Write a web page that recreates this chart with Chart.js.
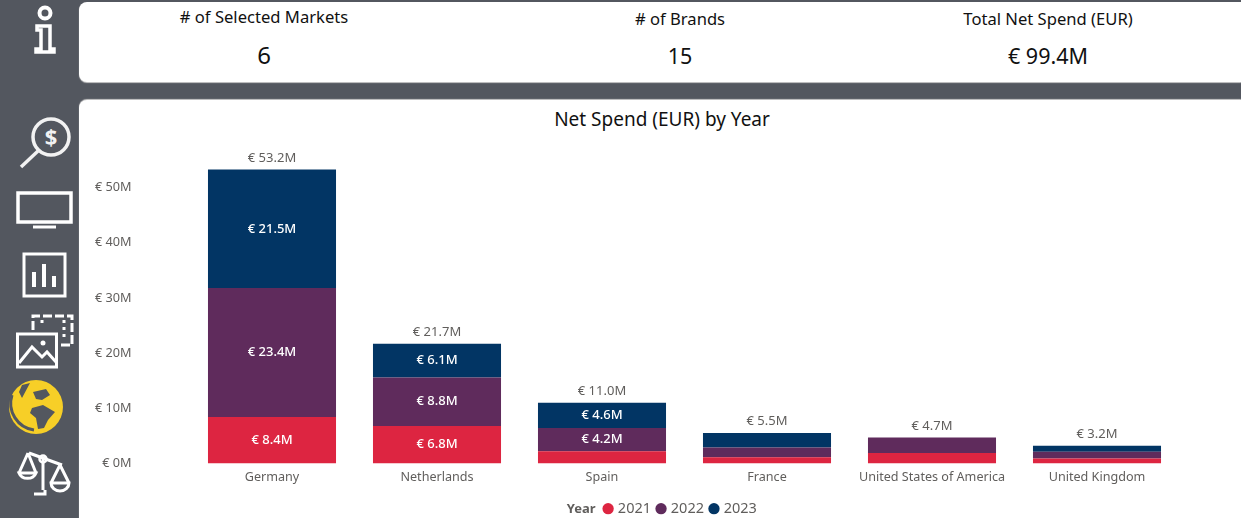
<!DOCTYPE html>
<html>
<head>
<meta charset="utf-8">
<script src="https://cdn.jsdelivr.net/npm/chart.js@4/dist/chart.umd.min.js"></script>
<style>
    html, body { margin: 0; width: 1241px; height: 518px; overflow: hidden; background: #53575f; font-family: "Noto Sans", sans-serif; }
    .card { position: absolute; background: #fff; border-radius: 8px 0 0 8px; left: 79px; }
    #cardTop { top: 2px; width: 1162px; height: 80px; box-shadow: 0 1px 1px #c9c9c9; }
    #cardChart { top: 100px; width: 1162px; height: 430px; box-shadow: 0 -1px 1px #c9c9c9; }
    .txt { position: absolute; transform: translate(-50%, -50%); white-space: nowrap; color: #111; }
    .kpi-label { font-size: 16.6px; }
    .kpi-value { font-size: 21.5px; }
    #titulo { font-size: 19px; left: 662px; top: 119px; }
    #sidebar { position: absolute; left: 0; top: 0; }
    #chartWrap { position: absolute; left: 80px; top: 67px; width: 1161px; height: 462px; }
</style>
</head>
<body>
<svg id="sidebar" width="79" height="518" fill="none" stroke="#fff" stroke-width="3">
    <!-- info -->
    <circle cx="45" cy="13" r="5.5" stroke-width="4"/>
    <path d="M37 26H50V49H54V52H36V49H41V30H37Z" stroke-width="3.5"/>
    <!-- lupa -->
    <circle cx="51" cy="137" r="18" stroke="#f2f2f2" stroke-width="3.5"/>
    <path d="M38 151L21 167" stroke="#f2f2f2" stroke-width="3.5"/>
    <text x="51" y="145" font-size="22" font-weight="bold" text-anchor="middle" fill="#f2f2f2" stroke="none">$</text>
    <!-- monitor -->
    <rect x="18" y="193" width="53" height="29" stroke-width="3.5"/>
    <path d="M33 227H56"/>
    <!-- barras -->
    <rect x="24" y="254" width="41" height="42"/>
    <path d="M34 287V272M44 287V264M54 287V276" stroke-width="4"/>
    <!-- imagenes -->
    <path d="M33 330V316H72V345H60" stroke-dasharray="9 3"/>
    <path d="M42 320V327M64 320V340" stroke-dasharray="3 4"/>
    <rect x="17.5" y="334" width="39" height="33"/>
    <path d="M19 363L32 347L42 357L47 352L56 362"/>
    <circle cx="43" cy="343" r="2.5" fill="#fff" stroke="none"/>
    <!-- globo -->
    <circle cx="36" cy="407" r="27" fill="#f7cf27" stroke="none"/>
    <path d="M22 385L30 383L22 398L19 392ZM33 392L46 389L50 395L42 400L36 399ZM32 408L43 405L55 412L48 420L44 428L38 429L36 418L30 413Z" fill="#53575f" stroke="none"/>
    <path d="M12 395A27 27 0 0 0 34 430" stroke="#53575f" stroke-width="3"/>
    <!-- balanza -->
    <path d="M29 453L62 465M43 459V490M34 494H45V490" stroke-width="3"/>
    <circle cx="43" cy="459" r="3.5" stroke-width="2.5"/>
    <path d="M19 473A9 8 0 0 0 36 473ZM51 483A9 8 0 0 0 69 483ZM28 453L19 473M28 453L36 473M60 465L51 483M60 465L69 483" stroke-width="3"/>
</svg>

<div class="card" id="cardTop"></div>
<div class="card" id="cardChart"></div>

<div class="txt kpi-label" style="left:264px;top:16px"># of Selected Markets</div>
<div class="txt" style="left:264px;top:54px;font-size:24px">6</div>
<div class="txt kpi-label" style="left:680px;top:18px"># of Brands</div>
<div class="txt kpi-value" style="left:680px;top:55px">15</div>
<div class="txt kpi-label" style="left:1048px;top:18px">Total Net Spend (EUR)</div>
<div class="txt kpi-value" style="left:1048px;top:55px">€ 99.4M</div>
<div class="txt" id="titulo">Net Spend (EUR) by Year</div>

<div id="chartWrap"><canvas id="chartSpend"></canvas></div>

<script>
const mercados = ['Germany', 'Netherlands', 'Spain', 'France', 'United States of America', 'United Kingdom'];
const valores2021 = [8.4, 6.8, 2.2, 1.1, 1.9, 0.9];
const valores2022 = [23.4, 8.8, 4.2, 1.8, 2.8, 1.2];
const valores2023 = [21.5, 6.1, 4.6, 2.6, null, 1.1];
const totales = [53.2, 21.7, 11.0, 5.5, 4.7, 3.2];
const ticksY = [0, 10, 20, 30, 40, 50];

const GRIS = '#605e5c';
const euros = v => `€ ${v.toFixed(1)}M`;

// Etiquetas dentro de las barras, totales encima y el texto "Year" del legend
const pluginEtiquetas = {
    id: 'etiquetas',
    afterLayout(chart) {
        // el legend no queda centrado donde el original, lo movemos a mano
        const dx = 51.5;
        chart.legend.left += dx;
        chart.legend.right += dx;
        chart.legend.legendHitBoxes.forEach(b => { b.left += dx; });
    },
    afterDatasetsDraw(chart) {
        const { ctx, scales } = chart;
        ctx.save();
        ctx.textAlign = 'center';
        ctx.textBaseline = 'middle';

        ctx.font = '500 13px "Noto Sans"';
        ctx.fillStyle = '#fff';
        chart.data.datasets.forEach((ds, d) => {
            chart.getDatasetMeta(d).data.forEach((bar, i) => {
                const v = ds.data[i];
                if (v === null || v < 4) return;
                ctx.fillText(euros(v), bar.x, (bar.y + bar.base) / 2);
            });
        });

        ctx.font = '13px "Noto Sans"';
        ctx.fillStyle = GRIS;
        totales.forEach((t, i) => {
            ctx.fillText(euros(t), scales.x.getPixelForValue(i), scales.y.getPixelForValue(t) - 11.5);
        });

        const caja = chart.legend.legendHitBoxes[0];
        ctx.font = 'bold 13px "Noto Sans"';
        ctx.textAlign = 'right';
        ctx.fillText('Year', caja.left - 10, caja.top + 8);
        ctx.restore();
    }
};

new Chart(document.getElementById('chartSpend'), {
    type: 'bar',
    plugins: [pluginEtiquetas],
    data: {
        labels: mercados,
        datasets: [
            { label: '2021', data: valores2021, backgroundColor: '#dd2541' },
            { label: '2022', data: valores2022, backgroundColor: '#5f2b5c' },
            { label: '2023', data: valores2023, backgroundColor: '#023564' }
        ].map(ds => ({ ...ds, borderWidth: 0, categoryPercentage: 0.776, barPercentage: 1 }))
    },
    options: {
        responsive: true,
        maintainAspectRatio: false,
        animation: false,
        layout: { padding: { top: 1, right: 61.5, left: 0, bottom: 0 } },
        plugins: {
            tooltip: { enabled: false },
            legend: {
                position: 'bottom',
                labels: {
                    usePointStyle: true,
                    pointStyle: 'circle',
                    boxWidth: 5,
                    boxHeight: 8,
                    padding: 7.5,
                    color: GRIS,
                    font: { size: 14.5, family: '"Noto Sans"' }
                }
            }
        },
        scales: {
            x: {
                stacked: true,
                grid: { display: false, drawTicks: false },
                border: { display: false },
                ticks: { color: GRIS, padding: 6, maxRotation: 0, autoSkip: false, font: { size: 12.6, family: '"Noto Sans"' } },
                afterFit(scale) { scale.height = 30.5; }
            },
            y: {
                stacked: true,
                min: 0,
                max: 60,
                grid: { display: false, drawTicks: false },
                border: { display: false },
                ticks: {
                    stepSize: 10,
                    color: GRIS,
                    padding: 58,
                    callback: v => ticksY.includes(v) ? `€ ${v}M` : null,
                    font: { size: 12.7, family: '"Noto Sans"' }
                },
                afterFit(scale) { scale.width = 109.5; }
            }
        }
    }
});
</script>
</body>
</html>
